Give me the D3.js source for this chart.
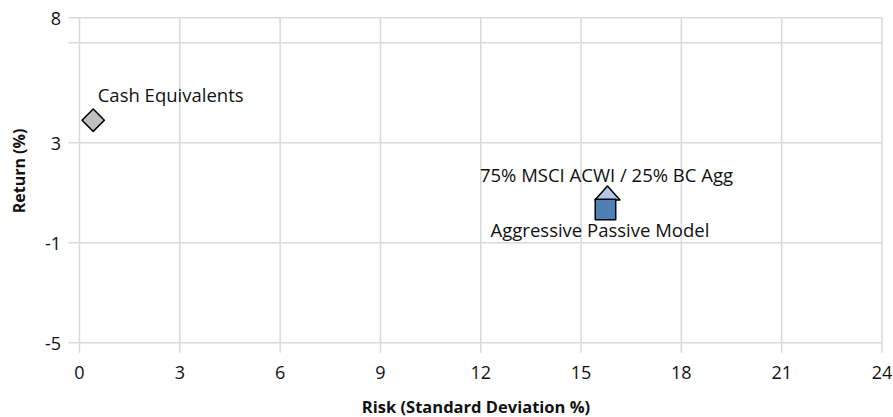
<!DOCTYPE html>
<html>
<head>
<meta charset="utf-8">
<script src="https://cdn.jsdelivr.net/npm/d3@7"></script>
<style>
  body { margin: 0; background: #fff; }
  text { font-family: "Open Sans", Lato, sans-serif; }
</style>
</head>
<body>
<svg width="893" height="417"></svg>
<script>
// data
var names = ["Cash Equivalents", "75% MSCI ACWI / 25% BC Agg", "Aggressive Passive Model"];
var risk = [0.41, 15.79, 15.73];
var ret = [3.9, 0.99, 0.33];
var shapes = ["diamond", "triangle", "square"];
var colors = ["#bfbfbf", "#b4c7e7", "#4f7fb5"];

var xTicks = [0, 3, 6, 9, 12, 15, 18, 21, 24];
var yTicks = [-5, -1, 3, 7, 8];
var yTickLabels = ["-5", "-1", "3", "", "8"];

var svgGraph = d3.select("svg");

var x = d3.scaleLinear().domain([0, 24]).range([79.5, 882]);
var y = d3.scaleLinear().domain([-5, 8]).range([342.7, 17.7]);

var grid = svgGraph.append("g");

// vertical grid + ticks
grid.selectAll(".vg")
    .data(xTicks)
    .enter()
    .append("line")
    .attr("x1", function(d) { return x(d); })
    .attr("x2", function(d) { return x(d); })
    .attr("y1", y(8))
    .attr("y2", y(-5) + 10)
    .attr("stroke", "#d9d9d9")
    .attr("stroke-width", 1.5);

// horizontal grid + ticks
grid.selectAll(".hg")
    .data(yTicks)
    .enter()
    .append("line")
    .attr("x1", x(0) - 11)
    .attr("x2", x(24))
    .attr("y1", function(d) { return y(d); })
    .attr("y2", function(d) { return y(d); })
    .attr("stroke", "#d9d9d9")
    .attr("stroke-width", 1.5);

// tick labels
svgGraph.append("g").selectAll("text")
    .data(xTicks)
    .enter()
    .append("text")
    .attr("x", function(d) { return x(d); })
    .attr("y", 379)
    .attr("text-anchor", "middle")
    .style("font-size", "18px")
    .attr("fill", "#111")
    .text(function(d) { return d; });

svgGraph.append("g").selectAll("text")
    .data(yTicks)
    .enter()
    .append("text")
    .attr("x", 61)
    .attr("y", function(d) { return y(d) + 7; })
    .attr("text-anchor", "end")
    .style("font-size", "18px")
    .attr("fill", "#111")
    .text(function(d, i) { return yTickLabels[i]; });

// axis titles
svgGraph.append("text")
    .attr("x", 476)
    .attr("y", 413)
    .attr("text-anchor", "middle")
    .attr("font-weight", "bold")
    .style("font-size", "16.5px")
    .attr("fill", "#111")
    .text("Risk (Standard Deviation %)");

svgGraph.append("text")
    .attr("transform", "translate(25,171) rotate(-90)")
    .attr("text-anchor", "middle")
    .attr("font-weight", "bold")
    .style("font-size", "16px")
    .attr("fill", "#111")
    .text("Return (%)");

// flat triangle like the one in the picture (25 wide, 14 tall)
var flatTriangle = {
    draw: function(context, size) {
        context.moveTo(0, -7);
        context.lineTo(12.5, 7);
        context.lineTo(-12.5, 7);
        context.closePath();
    }
};

// markers
var sym = { diamond: d3.symbolSquare, triangle: flatTriangle, square: d3.symbolSquare };
var sizes = { diamond: 250, triangle: 1, square: 420 };
var rot = { diamond: 45, triangle: 0, square: 0 };

var pts = svgGraph.append("g");
pts.selectAll("path")
    .data(names)
    .enter()
    .append("path")
    .attr("transform", function(d, i) {
        return "translate(" + x(risk[i]) + "," + y(ret[i]) + ") rotate(" + rot[shapes[i]] + ")";
    })
    .attr("d", function(d, i) { return d3.symbol().type(sym[shapes[i]]).size(sizes[shapes[i]])(); })
    .attr("fill", function(d, i) { return colors[i]; })
    .attr("stroke", "#000")
    .attr("stroke-width", 1.5)
    .attr("stroke-linejoin", "round");

// labels
var labelDx = [4.5, -1, -5.5];
var labelDy = [-18, -11.3, 27.8];
var anchors = ["start", "middle", "middle"];
pts.selectAll("text")
    .data(names)
    .enter()
    .append("text")
    .attr("x", function(d, i) { return x(risk[i]) + labelDx[i]; })
    .attr("y", function(d, i) { return y(ret[i]) + labelDy[i]; })
    .attr("text-anchor", function(d, i) { return anchors[i]; })
    .style("font-size", "18.5px")
    .attr("fill", "#111")
    .text(function(d) { return d; });
</script>
</body>
</html>
